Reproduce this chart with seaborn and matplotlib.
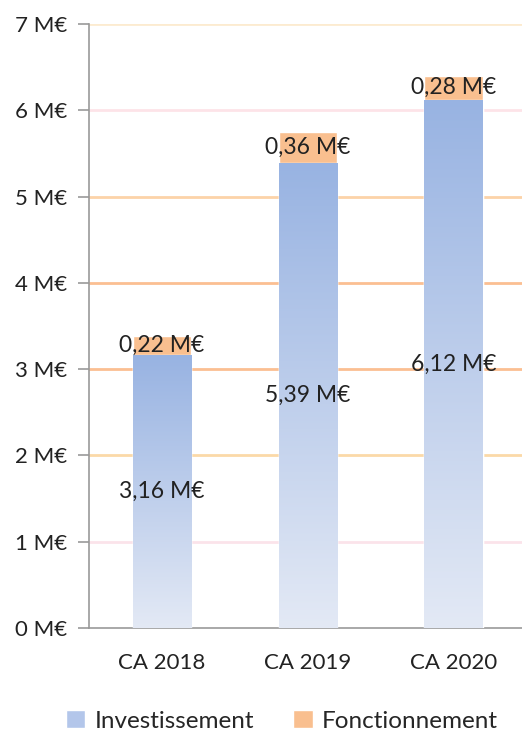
import numpy as np
import pandas as pd
import seaborn as sns
import matplotlib.pyplot as plt
from matplotlib.colors import LinearSegmentedColormap
from matplotlib.patches import Patch

# Données (M€)
annees = ['CA 2018', 'CA 2019', 'CA 2020']
investissement = [3.16, 5.39, 6.12]
fonctionnement = [0.22, 0.36, 0.28]
series = ['Investissement', 'Fonctionnement']

sns.set_style('white')
plt.rcParams['font.family'] = ['Lato', 'DejaVu Sans']

fig = plt.figure(figsize=(5.22, 7.31), dpi=100)
ax = fig.add_axes([0.1705, 0.1409, 0.8295, 0.8263])

total = [i + f for i, f in zip(investissement, fonctionnement)]
df = pd.DataFrame({'annee': annees, 'inv': investissement, 'tot': total})

# grille colorée
grid_colors = ['#fbe3ea', '#fbd9a8', '#fbbf92', '#fbbf92', '#fcd3a8', '#fde3e8', '#fcebd0']
for y, c in zip(range(1, 8), grid_colors):
    ax.axhline(y, color=c, lw=2, zorder=0)

sns.barplot(data=df, x='annee', y='tot', color='#f9bf8f', width=0.4,
            saturation=1, ax=ax, zorder=2)
sns.barplot(data=df, x='annee', y='inv', color='#9db7e3', width=0.4,
            saturation=1, ax=ax, zorder=3)

# dégradé vertical sur les barres bleues
cmap = LinearSegmentedColormap.from_list('grad', ['#e3e9f5', '#98b3e2'])
grad = np.linspace(0, 1, 256).reshape(-1, 1)
for bar in ax.patches[len(annees):]:
    x0, w, h = bar.get_x(), bar.get_width(), bar.get_height()
    im = ax.imshow(grad, cmap=cmap, origin='lower', aspect='auto',
                   extent=[x0, x0 + w, 0, h], zorder=3)
    im.set_clip_path(bar)
    bar.set_facecolor('none')

for i in range(len(annees)):
    ax.text(i, investissement[i] / 2, f'{investissement[i]:.2f} M€'.replace('.', ','),
            ha='center', va='center', fontsize=16.5, color='#222222', zorder=5)
    ax.text(i, investissement[i] + fonctionnement[i] / 2,
            f'{fonctionnement[i]:.2f} M€'.replace('.', ','),
            ha='center', va='center', fontsize=16.5, color='#222222', zorder=5)

ax.set_ylim(0, 7)
ax.set_xlim(-0.5, 2.47)
ax.set_yticks(range(0, 8))
ax.set_yticklabels([f'{v} M€' for v in range(0, 8)])
ax.set_xticks(range(len(annees)))
ax.set_xticklabels(annees)
ax.set_xticks([-0.5, 0.5, 1.5], minor=True)
ax.tick_params(axis='x', which='major', length=0, pad=18, labelsize=16, colors='#222222')
ax.tick_params(axis='x', which='minor', length=8, color='#999999', width=1.2)
ax.tick_params(axis='y', length=8, color='#999999', width=1.2, labelsize=16,
               colors='#222222', pad=8, left=True)
ax.tick_params(axis='y', colors='#999999', labelcolor='#222222')
ax.set_xlabel('')
ax.set_ylabel('')
for s in ['top', 'right']:
    ax.spines[s].set_visible(False)
for s in ['left', 'bottom']:
    ax.spines[s].set_color('#999999')
    ax.spines[s].set_linewidth(1.2)

handles = [Patch(facecolor='#b3c6ea', label=series[0]),
           Patch(facecolor='#f9bf8f', label=series[1])]
fig.legend(handles=handles, loc='center', ncol=2, frameon=False,
           fontsize=17.5, bbox_to_anchor=(0.54, 0.014), handlelength=0.8,
           handleheight=0.8, columnspacing=1.6, handletextpad=0.4)

fig.savefig('out.png', dpi=100)
